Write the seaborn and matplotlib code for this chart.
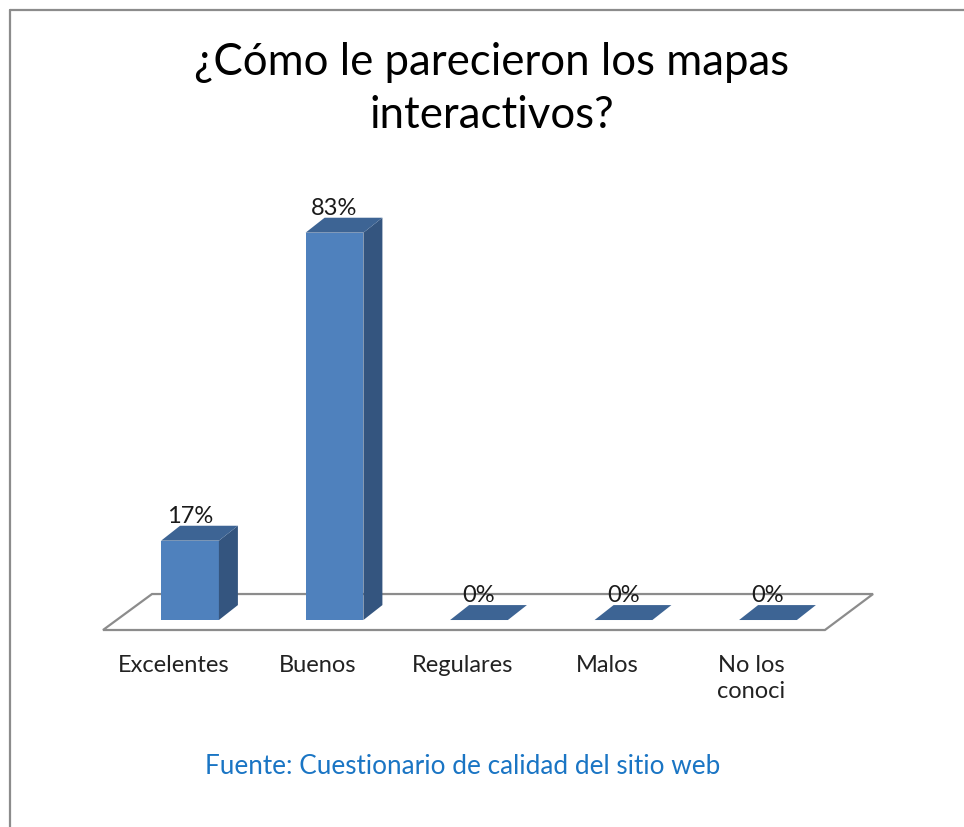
import seaborn as sns
import matplotlib.pyplot as plt
from matplotlib.patches import Polygon
from matplotlib.lines import Line2D

categorias = ['Excelentes', 'Buenos', 'Regulares', 'Malos', 'No los\nconoci']
porcentajes = [17, 83, 0, 0, 0]
titulo = ['¿Cómo le parecieron los mapas', 'interactivos?']
fuente = 'Fuente: Cuestionario de calidad del sitio web'

sns.set_theme(style='white')
plt.rcParams['font.family'] = ['Lato', 'DejaVu Sans']

fig = plt.figure(figsize=(9.64, 8.27), dpi=100)
ax = fig.add_axes([0, 0, 1, 1])

frente = '#4f81bd'
lado = '#34557f'
tapa = '#3d6494'

sns.barplot(x=categorias, y=porcentajes, ax=ax, color=frente, width=0.4,
            saturation=1, zorder=3, linewidth=0)

# escalas: 144.5 px por categoria, 4.667 px por punto porcentual
ax.set_xlim(-1.3149, 5.3564)
ax.set_ylim(-44.35, 132.85)
ax.axis('off')

# piso en perspectiva
piso = Polygon([(-0.602, -2.14), (-0.263, 5.57), (4.727, 5.57), (4.394, -2.14)],
               closed=True, facecolor='white', edgecolor='#8c8c8c', lw=1.6, zorder=1)
ax.add_patch(piso)

# caras laterales y superiores (efecto 3D)
dx, dy = 0.1315, 3.2
for p in ax.patches:
    if p is piso:
        continue
    x0 = p.get_x()
    x1 = x0 + p.get_width()
    h = p.get_height()
    ax.add_patch(Polygon([(x1, 0), (x1 + dx, dy), (x1 + dx, h + dy), (x1, h)],
                         closed=True, facecolor=lado, edgecolor='none', zorder=3))
    ax.add_patch(Polygon([(x0, h), (x0 + dx, h + dy), (x1 + dx, h + dy), (x1, h)],
                         closed=True, facecolor=tapa, edgecolor='none', zorder=4))

# etiquetas de valor (quedan detras de la tapa, como en el original)
for i, v in enumerate(porcentajes):
    ax.text(i, v + dy - 0.3, f'{v}%', ha='center', va='bottom', fontsize=17,
            color='#1a1a1a', zorder=2)

# etiquetas de categoria
for i, c in enumerate(categorias):
    ax.text(i - 0.115, -7.4, c, ha='center', va='top', fontsize=17,
            color='#222222', linespacing=1.3)

fig.text(0.51, 1 - 75 / 827, titulo[0], ha='center', va='baseline', fontsize=31.5,
         color='black')
fig.text(0.51, 1 - 128 / 827, titulo[1], ha='center', va='baseline', fontsize=31.5,
         color='black')
fig.text(463 / 964, 1 - 767 / 827, fuente, ha='center', va='center', fontsize=18.8,
         color='#1a75c4')

# marco
fig.add_artist(Line2D([9.5 / 964, 1], [1 - 9.5 / 827, 1 - 9.5 / 827],
                      transform=fig.transFigure, color='#8c8c8c', lw=1.6))
fig.add_artist(Line2D([9.5 / 964, 9.5 / 964], [0, 1 - 9.5 / 827],
                      transform=fig.transFigure, color='#8c8c8c', lw=1.6))

fig.savefig('out.png', dpi=100)
